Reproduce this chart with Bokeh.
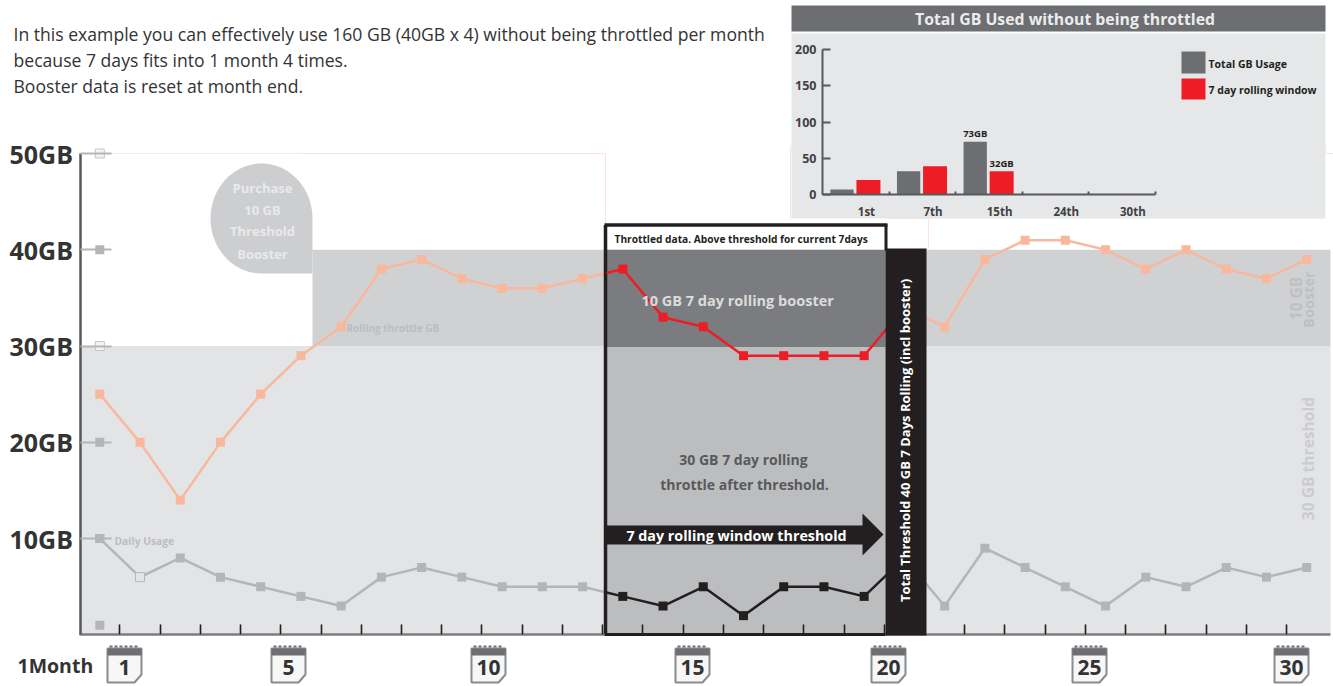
import numpy as np
from bokeh.plotting import figure
from bokeh.models import LinearAxis, FixedTicker, Range1d
from bokeh.core.properties import value
from bokeh.embed import file_html
from bokeh.resources import INLINE

# ---------- data ----------
days = list(range(31))
rolling = [25, 20, 14, 20, 25, 29, 32, 38, 39, 37, 36, 36, 37, 38, 33, 32, 29, 29, 29, 29, 34,
           32, 39, 41, 41, 40, 38, 40, 38, 37, 39]
usage = [10, 6, 8, 6, 5, 4, 3, 6, 7, 6, 5, 5, 5, 4, 3, 5, 2, 5, 5, 4, 8,
         3, 9, 7, 5, 3, 6, 5, 7, 6, 7]
gb_ticks = [10, 20, 30, 40, 50]
gb_labels = {t: f"{t}GB" for t in gb_ticks}
threshold = 30
booster_top = 40
calendar_labels = ["1", "5", "10", "15", "20", "25", "30"]
inset_cats = ["1st", "7th", "15th", "24th", "30th"]
inset_total = [7, 32, 73, 0, 0]
inset_window = [20, 39, 32, 0, 0]
inset_ticks = [0, 50, 100, 150, 200]

FONT = "Open Sans"
W, H = 1333, 686

# reference-pixel geometry -> data space
X0, XS = 99.3, 40.23
Y0, YS = 634.4, 9.628
IX0, IXS = 822.0, 66.6
IY0, IYS = 194.0, 0.7235
dx = lambda px: (np.asarray(px, dtype=float) - X0) / XS
dy = lambda py: (Y0 - np.asarray(py, dtype=float)) / YS

p = figure(width=W, height=H, output_backend="svg", toolbar_location=None,
           x_range=Range1d(float(dx(0)), float(dx(W))), y_range=Range1d(float(dy(H)), float(dy(0))),
           min_border=0, outline_line_color=None, background_fill_color="white",
           border_fill_color="white")
p.xaxis.visible = False
p.yaxis.visible = False
p.xgrid.visible = False
p.ygrid.visible = False
p.extra_x_ranges["inset"] = Range1d((0 - IX0) / IXS, (W - IX0) / IXS)
p.extra_y_ranges["inset"] = Range1d((IY0 - H) / IYS, IY0 / IYS)


def box(l, r, t, b, color, **kw):
    p.quad(left=[float(dx(l))], right=[float(dx(r))], top=[float(dy(t))], bottom=[float(dy(b))],
           fill_color=color, line_color=None, **kw)


def rule(x0, y0, x1, y1, color, w=1, **kw):
    p.segment(x0=[float(dx(x0))], y0=[float(dy(y0))], x1=[float(dx(x1))], y1=[float(dy(y1))],
              line_color=color, line_width=w, **kw)


def txt(x, y, s, size, color, bold=True, align="left", angle=0.0, level="overlay"):
    p.text(x=[float(dx(x))], y=[float(dy(y))], text=[s], text_font=value(FONT),
           text_font_size=f"{size}px", text_color=color, text_align=align, text_baseline="middle",
           text_font_style="bold" if bold else "normal", angle=angle, level=level)


# ---------- main bands ----------
x_end = float(dx(1330))
p.quad(left=[float(dx(79))], right=[x_end], bottom=[0], top=[threshold], fill_color="#e3e4e6", line_color=None)
p.quad(left=[float(dx(312))], right=[x_end], bottom=[threshold], top=[booster_top], fill_color="#d0d1d3", line_color=None)

# faint frame lines
rule(110, 153, 300, 153, "#ececec")
rule(300, 153, 605, 153, "#fbe3de")
rule(605, 153, 605, 224, "#fbe3de")
rule(928, 218, 928, 248, "#fbe3de")
rule(887, 218, 928, 218, "#fbe3de")

# purchase bubble
t = np.linspace(0, 1.5 * np.pi, 60)
bx = np.r_[261 + 51 * np.cos(t), 312]
by = np.r_[218 - 55 * np.sin(t), 273]
p.patch(dx(bx), dy(by), fill_color="#cdced0", line_color=None)

# ---------- main series, faded ----------
p.line(days, rolling, line_color="#f9b79c", line_width=2.5)
p.scatter(days, rolling, marker="square", size=9, fill_color="#f9b79c", line_color=None)
p.line(days, usage, line_color="#b4b5b7", line_width=2.5)
p.scatter(days, usage, marker="square", size=9,
          fill_color=["#e3e4e6" if i == 1 else "#b4b5b7" for i in days],
          line_color=["#b4b5b7" if i == 1 else None for i in days])

# axis squares
p.scatter([0, 0, 0, 0, 0, 0], [50, 40, 30, 20, 10, 1], marker="square", size=[9] * 6,
          fill_color=["#f4f4f4", "#b4b5b7", "#f4f4f4", "#b4b5b7", "#b4b5b7", "#b4b5b7"],
          line_color=["#c4c5c7", None, "#c4c5c7", None, None, None])

# ---------- throttled window ----------
box(604, 885, 249, 346.5, "#7b7c7f")
box(604, 885, 346.5, 634, "#bcbdbf")
box(604, 886, 224, 249, "white")
rule(605, 224.5, 605, 634, "#231f20", 3.5)
rule(604, 224.5, 887, 224.5, "#231f20", 3.5)
rule(885.5, 224, 885.5, 250, "#231f20", 3)

win_l = float(dx(606))
win_x = [win_l] + [d for d in days if 13 <= d <= 20]
win_r = [float(np.interp(win_l, days, rolling))] + rolling[13:21]
win_u = [float(np.interp(win_l, days, usage))] + usage[13:21]
p.line(win_x, win_r, line_color="#ee1c25", line_width=2.5)
p.scatter(days[13:20], rolling[13:20], marker="square", size=9, fill_color="#ee1c25", line_color=None)
p.line(win_x, win_u, line_color="#231f20", line_width=2.5)
p.scatter(days[13:20], usage[13:20], marker="square", size=9, fill_color="#231f20", line_color=None)

# arrow
ax = [604, 862, 862, 883, 862, 862, 604]
ay = [525, 525, 513, 534, 555, 544, 544]
p.patch(dx(ax), dy(ay), fill_color="#231f20", line_color=None)

# black threshold bar
box(885, 926, 248, 635, "#231f20", level="annotation")

# ---------- axes ----------
left = LinearAxis(fixed_location=float(dx(79.5)), ticker=FixedTicker(ticks=gb_ticks),
                  major_label_overrides=gb_labels, bounds=(0, 50))
left.axis_line_color = "#58595b"
left.axis_line_width = 2.5
left.major_tick_in = 31
left.major_tick_out = 0
left.major_tick_line_color = "#b4b5b7"
left.major_tick_line_width = 2
left.minor_tick_line_color = None
left.major_label_text_font = FONT
left.major_label_text_font_style = "bold"
left.major_label_text_font_size = "25px"
left.major_label_text_color = "#333333"
left.major_label_standoff = 7
p.add_layout(left, "left")

between = [d + 0.5 for d in days[:-1]]
blank = {b: "" for b in between}
bottom = LinearAxis(fixed_location=0, ticker=FixedTicker(ticks=between), bounds=(float(dx(79)), x_end),
                    major_label_overrides=blank)
bottom.axis_line_color = "#7d7e81"
bottom.axis_line_width = 2.5
bottom.major_tick_in = 10
bottom.major_tick_out = 0
bottom.major_tick_line_color = "#a7a8aa"
bottom.major_tick_line_width = 1.5
bottom.minor_tick_line_color = None
p.add_layout(bottom, "below")

bottom2 = LinearAxis(fixed_location=0, ticker=FixedTicker(ticks=between), bounds=(float(dx(604)), float(dx(885))),
                     major_label_overrides=blank)
bottom2.axis_line_color = "#231f20"
bottom2.axis_line_width = 3
bottom2.major_tick_in = 10
bottom2.major_tick_out = 0
bottom2.major_tick_line_color = "#231f20"
bottom2.major_tick_line_width = 1.5
bottom2.minor_tick_line_color = None
p.add_layout(bottom2, "below")

# ---------- main texts ----------
txt(13, 33, "In this example you can effectively use 160 GB (40GB x 4) without being throttled per month", 17.6, "#333333", bold=False)
txt(13, 59, "because 7 days fits into 1 month 4 times.", 17.6, "#333333", bold=False)
txt(13, 85, "Booster data is reset at month end.", 17.6, "#333333", bold=False)
for yy, s in zip([187, 209, 230, 253], ["Purchase", "10 GB", "Threshold", "Booster"]):
    txt(262, yy, s, 13, "#e9e9ea", align="center")
txt(346, 327, "Rolling throttle GB", 10, "#bcbdbf")
txt(114, 540, "Daily Usage", 10.3, "#bcbdbf")
txt(614, 238, "Throttled data. Above threshold for current 7days", 10.2, "#231f20")
txt(739, 300, "10 GB  7 day rolling booster", 14.5, "#dcdcdd", align="center")
txt(743, 459, "30 GB 7 day rolling", 14, "#58595b", align="center")
txt(744, 484, "throttle after threshold.", 14, "#58595b", align="center")
txt(736, 535, "7 day rolling window threshold", 14.3, "white", align="center")
txt(904, 440, "Total Threshold 40 GB 7 Days Rolling (incl booster)", 13, "white", align="center", angle=np.pi / 2)
txt(1295, 298, "10 GB", 15.5, "#bfc0c2", align="center", angle=np.pi / 2)
txt(1308, 299, "Booster", 14.5, "#bfc0c2", align="center", angle=np.pi / 2)
txt(1307, 458, "30 GB threshold", 15.6, "#cbccce", align="center", angle=np.pi / 2)
txt(17, 665, "1Month", 19.5, "#333333")

# ---------- calendars ----------
cal_px = [124, 288, 488, 692, 888, 1089, 1291]
for cx, s in zip(cal_px, calendar_labels):
    hw = 17
    bx = [cx - hw, cx + hw, cx + hw, cx + hw - 7, cx - hw]
    by = [648, 648, 674, 682, 682]
    p.patch(dx(bx), dy(by), fill_color="#f7f7f7", line_color="#8a8b8d", line_width=2)
    box(cx - hw, cx + hw, 648, 655, "#6d6e71")
    rule(cx - hw + 2, 646, cx + hw - 2, 646, "#6d6e71", 2, line_dash="3 2")
    txt(cx, 667, s, 21, "#333333", align="center")

# ---------- inset ----------
box(791, 1325, 33, 218, "#e6e7e8")
box(791, 1325, 5, 31, "#6d6e71")
txt(1064.5, 18, "Total GB Used without being throttled", 15.8, "#ececed", align="center")
rule(790, 145, 790, 218, "#fbe3de")
rule(1325, 145, 1325, 153, "#fbe3de")
rule(1325, 153, 1333, 153, "#fbe3de")

idx = np.arange(len(inset_cats))
p.vbar(x=idx + 0.293, width=0.35, bottom=0, top=inset_total, fill_color="#6d6e71", line_color=None,
       x_range_name="inset", y_range_name="inset")
p.vbar(x=idx + 0.69, width=0.36, bottom=0, top=inset_window, fill_color="#ee1c25", line_color=None,
       x_range_name="inset", y_range_name="inset")
p.text(x=[2.293, 2.69], y=[inset_total[2] + 2, inset_window[2] + 2],
       text=[f"{inset_total[2]}GB", f"{inset_window[2]}GB"], text_font=value(FONT), text_font_size="9.5px",
       text_font_style="bold", text_color="#231f20", text_align="center", text_baseline="bottom",
       x_range_name="inset", y_range_name="inset")

iy = LinearAxis(x_range_name="inset", y_range_name="inset", fixed_location=0, bounds=(0, 200),
                ticker=FixedTicker(ticks=inset_ticks))
iy.axis_line_color = "#58595b"
iy.axis_line_width = 2
iy.major_tick_in = 8
iy.major_tick_out = 0
iy.major_tick_line_color = "#58595b"
iy.major_tick_line_width = 2
iy.minor_tick_line_color = None
iy.major_label_text_font = FONT
iy.major_label_text_font_style = "bold"
iy.major_label_text_font_size = "12.5px"
iy.major_label_text_color = "#414042"
iy.major_label_standoff = 6
p.add_layout(iy, "left")

ix_ticks = [1, 2, 3, 4, 5]
ix = LinearAxis(x_range_name="inset", y_range_name="inset", fixed_location=0, bounds=(0, 5),
                ticker=FixedTicker(ticks=ix_ticks), major_label_overrides={t: "" for t in ix_ticks})
ix.axis_line_color = "#58595b"
ix.axis_line_width = 2
ix.major_tick_in = 3
ix.major_tick_out = 0
ix.major_tick_line_color = "#58595b"
ix.major_tick_line_width = 2
ix.minor_tick_line_color = None
p.add_layout(ix, "below")

ix2 = LinearAxis(x_range_name="inset", y_range_name="inset", fixed_location=0,
                 ticker=FixedTicker(ticks=[float(i) + 0.66 for i in idx]),
                 major_label_overrides={float(i) + 0.66: c for i, c in zip(idx, inset_cats)})
ix2.axis_line_color = None
ix2.major_tick_line_color = None
ix2.minor_tick_line_color = None
ix2.major_label_text_font = FONT
ix2.major_label_text_font_style = "bold"
ix2.major_label_text_font_size = "11.5px"
ix2.major_label_text_color = "#414042"
ix2.major_label_standoff = 3
p.add_layout(ix2, "below")

# inset legend
box(1181, 1205, 51, 73, "#6d6e71")
box(1181, 1205, 78, 99, "#ee1c25")
txt(1208, 63, "Total GB Usage", 10.5, "#231f20")
txt(1208, 89, "7 day rolling window", 10.5, "#231f20")

open("out.html", "w").write(file_html(p, INLINE))
